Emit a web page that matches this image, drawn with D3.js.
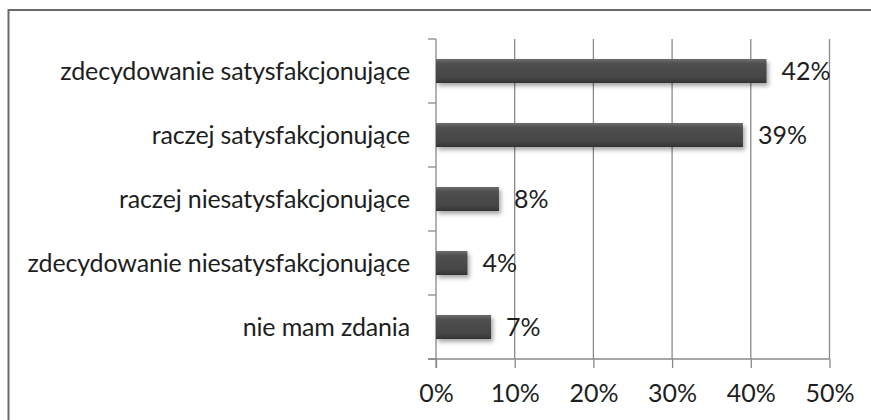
<!DOCTYPE html>
<html>
<head>
<meta charset="utf-8">
<script src="https://cdn.jsdelivr.net/npm/d3@7"></script>
<style>
	html, body { margin: 0; padding: 0; background: #fff; }
	svg text { font-family: Lato, "Open Sans", sans-serif; fill: #1e1e1e; }
</style>
</head>
<body>
<div id="viz"></div>
<script>

// chart data
var categories = [
	"zdecydowanie satysfakcjonujące",
	"raczej satysfakcjonujące",
	"raczej niesatysfakcjonujące",
	"zdecydowanie niesatysfakcjonujące",
	"nie mam zdania"
];
var values = [0.42, 0.39, 0.08, 0.04, 0.07];
var tickValues = [0, 0.1, 0.2, 0.3, 0.4, 0.5];

var width = 871, height = 420;
var plotLeft = 436, plotRight = 829.5, plotTop = 39, plotBottom = 359;

var svg = d3.select("#viz")
	.append("svg")
	.attr("width", width)
	.attr("height", height);

var defs = svg.append("defs");

var grad = defs.append("linearGradient")
	.attr("id", "barGrad")
	.attr("x1", 0).attr("y1", 0).attr("x2", 0).attr("y2", 1);
grad.append("stop").attr("offset", "0%").attr("stop-color", "#6e6e6e");
grad.append("stop").attr("offset", "18%").attr("stop-color", "#515151");
grad.append("stop").attr("offset", "80%").attr("stop-color", "#444");
grad.append("stop").attr("offset", "100%").attr("stop-color", "#333");

var shadow = defs.append("filter")
	.attr("id", "barShadow")
	.attr("x", "-10%").attr("y", "-30%")
	.attr("width", "130%").attr("height", "180%");
shadow.append("feDropShadow")
	.attr("dx", 2).attr("dy", 3)
	.attr("stdDeviation", 2)
	.attr("flood-color", "#000")
	.attr("flood-opacity", 0.35);

// outer frame (extends past the right and bottom edges)
svg.append("rect")
	.attr("x", 8.5).attr("y", 10)
	.attr("width", width + 20).attr("height", height + 20)
	.attr("fill", "none")
	.attr("stroke", "#6a6a6a")
	.attr("stroke-width", 2);

var x = d3.scaleLinear()
	.domain([0, 0.5])
	.range([plotLeft, plotRight]);

var y = d3.scaleBand()
	.domain(categories)
	.range([plotTop, plotBottom])
	.paddingInner(0.625)
	.paddingOuter(0.3125);

// vertical gridlines
svg.append("g")
	.selectAll("line")
	.data(tickValues.slice(1))
	.enter().append("line")
	.attr("x1", function(d){ return x(d); })
	.attr("x2", function(d){ return x(d); })
	.attr("y1", plotTop)
	.attr("y2", plotBottom)
	.attr("stroke", "#8a8a8a")
	.attr("stroke-width", 1.3);

// x axis
var xAxis = svg.append("g")
	.attr("transform", "translate(0," + plotBottom + ")")
	.call(d3.axisBottom(x)
		.tickValues(tickValues)
		.tickSize(9)
		.tickPadding(16)
		.tickFormat(d3.format(".0%")));
xAxis.select(".domain").remove();
xAxis.selectAll(".tick line").attr("stroke", "#8a8a8a").attr("stroke-width", 1.3);
xAxis.selectAll("text")
	.attr("fill", "#1e1e1e")
	.style("font-size", "25px");

svg.append("line")
	.attr("x1", plotLeft - 8).attr("x2", plotRight)
	.attr("y1", plotBottom).attr("y2", plotBottom)
	.attr("stroke", "#8a8a8a").attr("stroke-width", 1.3);

// category axis with ticks at band boundaries
svg.append("line")
	.attr("x1", plotLeft).attr("x2", plotLeft)
	.attr("y1", plotTop).attr("y2", plotBottom + 9)
	.attr("stroke", "#8a8a8a").attr("stroke-width", 1.3);

var boundaries = d3.range(categories.length + 1).map(function(i){
	return plotTop + i * y.step();
});
svg.append("g")
	.selectAll("line")
	.data(boundaries)
	.enter().append("line")
	.attr("x1", plotLeft - 8).attr("x2", plotLeft)
	.attr("y1", function(d){ return d; })
	.attr("y2", function(d){ return d; })
	.attr("stroke", "#8a8a8a").attr("stroke-width", 1.3);

// category labels
svg.append("g")
	.selectAll("text")
	.data(categories)
	.enter().append("text")
	.attr("x", 410)
	.attr("y", function(d){ return y(d) + y.bandwidth() / 2; })
	.attr("dy", "0.35em")
	.attr("text-anchor", "end")
	.style("font-size", "25px")
	.style("letter-spacing", "-0.15px")
	.text(function(d){ return d; });

// bars
svg.append("g")
	.selectAll("rect")
	.data(values)
	.enter().append("rect")
	.attr("x", x(0))
	.attr("y", function(d, i){ return y(categories[i]); })
	.attr("width", function(d){ return x(d) - x(0); })
	.attr("height", y.bandwidth())
	.attr("fill", "url(#barGrad)")
	.attr("filter", "url(#barShadow)");

// value labels
svg.append("g")
	.selectAll("text")
	.data(values)
	.enter().append("text")
	.attr("x", function(d){ return x(d) + 15; })
	.attr("y", function(d, i){ return y(categories[i]) + y.bandwidth() / 2; })
	.attr("dy", "0.35em")
	.style("font-size", "25px")
	.text(function(d){ return Math.round(d * 100) + "%"; });

</script>
</body>
</html>
